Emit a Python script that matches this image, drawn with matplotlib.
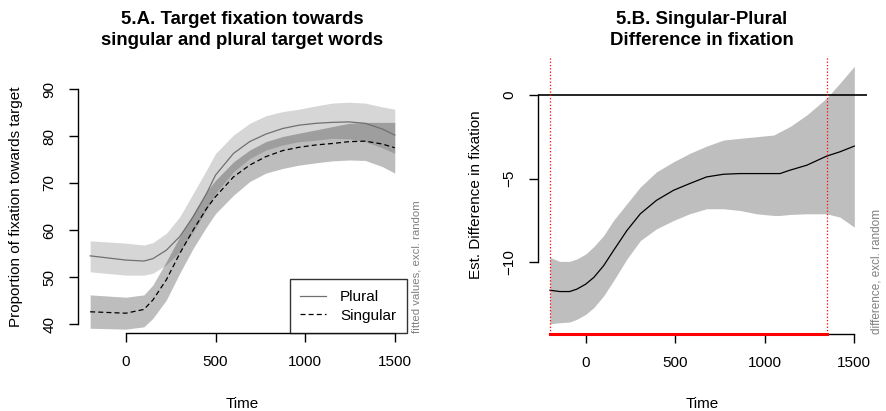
import numpy as np
import matplotlib.pyplot as plt

plt.rcParams['font.family'] = ['Liberation Sans', 'DejaVu Sans']

# fitted fixation proportions (panel A)
time_a = [-200, 0, 100, 150, 225, 300, 375, 450, 500, 600, 690, 780, 875,
          965, 1060, 1150, 1245, 1335, 1430, 1500]
plural_fit = [54.5, 53.6, 53.4, 53.9, 55.7, 58.6, 62.8, 67.8, 71.7, 76.3, 78.8,
              80.4, 81.6, 82.3, 82.7, 82.9, 83.0, 82.7, 81.5, 80.2]
plural_hi = [57.7, 57.2, 56.8, 57.3, 59.3, 62.8, 67.8, 72.8, 76.3, 80.2, 82.7,
             84.3, 85.2, 85.7, 86.4, 87.0, 87.2, 87.0, 86.2, 85.7]
plural_lo = [51.1, 50.4, 50.4, 50.8, 52.6, 55.4, 59.6, 64.3, 67.8, 72.4, 75.2,
             77.0, 78.1, 78.8, 79.1, 79.5, 79.4, 78.8, 77.5, 76.3]
singular_fit = [42.6, 42.3, 43.1, 45.1, 49.4, 55.0, 60.0, 64.6, 67.1, 71.3, 73.8,
                75.6, 76.9, 77.6, 78.1, 78.4, 78.8, 78.9, 78.3, 77.5]
singular_hi = [46.2, 45.7, 46.2, 48.3, 53.3, 58.6, 63.5, 68.2, 70.6, 74.5, 77.0,
               78.8, 79.9, 80.6, 81.3, 82.0, 82.7, 82.9, 82.9, 82.9]
singular_lo = [39.1, 38.9, 39.4, 41.2, 45.1, 50.8, 56.1, 60.7, 63.5, 67.4, 70.3,
               72.1, 73.1, 73.8, 74.3, 74.7, 74.9, 74.8, 73.5, 72.1]

# singular - plural difference (panel B)
time_b = [-200, -145, -90, -50, 0, 45, 100, 155, 230, 305, 395, 490, 580, 675,
          770, 860, 955, 1050, 1085, 1140, 1235, 1345, 1420, 1500]
diff_fit = [-11.66, -11.74, -11.74, -11.6, -11.3, -10.9, -10.2, -9.3, -8.1, -7.1,
            -6.3, -5.7, -5.3, -4.9, -4.74, -4.7, -4.7, -4.7, -4.7, -4.5, -4.2,
            -3.66, -3.4, -3.06]
diff_hi = [-9.7, -9.94, -9.94, -9.8, -9.5, -9.06, -8.4, -7.5, -6.5, -5.5, -4.6,
           -4.0, -3.5, -3.06, -2.7, -2.6, -2.5, -2.4, -2.2, -1.9, -1.2, -0.2, 0.7, 1.7]
diff_lo = [-13.66, -13.6, -13.56, -13.4, -13.1, -12.7, -12.0, -11.1, -9.8, -8.7,
           -8.0, -7.5, -7.1, -6.8, -6.8, -6.9, -7.1, -7.2, -7.2, -7.14, -7.1, -7.1,
           -7.3, -7.9]
sig_window = [-200, 1350]

xticks = [0, 500, 1000, 1500]


def r_axes(ax, xb, yb):
    # base-R style detached axes
    for s in ['top', 'right']:
        ax.spines[s].set_visible(False)
    ax.spines['left'].set_bounds(*yb)
    ax.spines['bottom'].set_bounds(*xb)
    for s in ['left', 'bottom']:
        ax.spines[s].set_linewidth(1.0)
    ax.tick_params(direction='out', length=6.5, width=1.0, labelsize=11, pad=9)
    for lab in ax.get_yticklabels():
        lab.set_rotation(90)
        lab.set_va('center')


def r_lim(lo, hi):
    pad = (hi - lo) * 0.04
    return lo - pad, hi + pad


fig = plt.figure(figsize=(8.87, 4.11), dpi=100)

# --- panel A ---
ax1 = fig.add_axes([0.0879, 0.1888, 0.3709, 0.6175])
ax1.fill_between(time_a, plural_lo, plural_hi, color='#d6d6d6', lw=0)
ax1.fill_between(time_a, singular_lo, singular_hi, color='black', alpha=0.26, lw=0)
ax1.plot(time_a, plural_fit, color='#707070', lw=0.9, label='Plural')
ax1.plot(time_a, singular_fit, color='black', lw=0.9, ls=(0, (4, 2.5)), label='Singular')
ax1.set_xlim(*r_lim(-200, 1500))
ax1.set_ylim(*r_lim(40, 90))
ax1.set_xticks(xticks)
ax1.set_yticks([40, 50, 60, 70, 80, 90])
r_axes(ax1, (0, 1500), (40, 90))
ax1.set_xlabel('Time', fontsize=11, labelpad=20)
ax1.set_ylabel('Proportion of fixation towards target', fontsize=11, labelpad=14)
leg = ax1.legend(loc='lower right', borderaxespad=0, fontsize=11, frameon=True,
                 fancybox=False, handlelength=1.7, handletextpad=0.9,
                 labelspacing=0.3, borderpad=0.7)
leg.get_frame().set_edgecolor('black')
leg.get_frame().set_linewidth(1.0)
ax1.text(1.03, 0.0, 'fitted values, excl. random', transform=ax1.transAxes,
         rotation=90, ha='center', va='bottom', fontsize=8.2, color='#808080')

# --- panel B ---
ax2 = fig.add_axes([0.6062, 0.1873, 0.3707, 0.6764])
ax2.fill_between(time_b, diff_lo, diff_hi, color='#bebebe', lw=0)
ax2.plot(time_b, diff_fit, color='black', lw=0.9)
ax2.axhline(0, color='black', lw=1.2)
for xv in sig_window:
    ax2.axvline(xv, color='red', lw=0.9, ls=':')
ax2.set_xlim(*r_lim(-200, 1500))
ax2.set_ylim(*r_lim(min(diff_lo), max(diff_hi)))
y0 = ax2.get_ylim()[0]
ax2.plot(sig_window, [y0, y0], color='red', lw=2.2, clip_on=False, zorder=5)
ax2.set_xticks(xticks)
ax2.set_yticks([-10, -5, 0])
r_axes(ax2, (0, 1500), (-10, 0))
ax2.set_xlabel('Time', fontsize=11, labelpad=20)
ax2.set_ylabel('Est. Difference in fixation', fontsize=11, labelpad=14)
ax2.text(1.03, 0.0, 'difference, excl. random', transform=ax2.transAxes,
         rotation=90, ha='center', va='bottom', fontsize=8.5, color='#808080')

fig.text(0.2734, 0.927, '5.A. Target fixation towards\nsingular and plural target words',
         ha='center', va='center', fontsize=13.4, fontweight='bold', linespacing=1.35)
fig.text(0.7915, 0.927, '5.B. Singular-Plural\nDifference in fixation',
         ha='center', va='center', fontsize=13.4, fontweight='bold', linespacing=1.35)

fig.savefig('out.png', dpi=100)
